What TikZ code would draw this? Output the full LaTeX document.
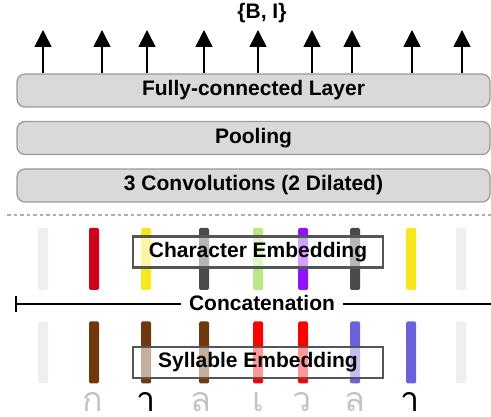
\documentclass[tikz,border=0pt]{standalone}
\usepackage{fontspec}
\setmainfont{Liberation Sans}
\newfontfamily\thaifont[Script=Thai]{Loma}
\usetikzlibrary{arrows.meta}
\definecolor{layerfill}{HTML}{D9D9D9}
\definecolor{layeredge}{HTML}{9B9B9B}
\definecolor{embedge}{HTML}{555555}
\definecolor{cnone}{HTML}{EFEFEF}
\definecolor{cred}{HTML}{D0021B}
\definecolor{cyellow}{HTML}{F8E71C}
\definecolor{cdark}{HTML}{4A4A4A}
\definecolor{cgreen}{HTML}{B8E986}
\definecolor{cpurple}{HTML}{9013FE}
\definecolor{sbrown}{HTML}{70380C}
\definecolor{sred}{HTML}{FF0000}
\definecolor{sblue}{HTML}{6B62DA}
\definecolor{thaigrey}{HTML}{C4C4C4}
\tikzset{
  labelfont/.style={font=\fontsize{21}{24}\selectfont\bfseries},
  layerbox/.style={draw=layeredge, fill=layerfill, line width=1.3pt, rounded corners=8pt,
    minimum width=473pt, minimum height=33pt, labelfont},
  embbar/.style={fill=#1, rounded corners=1.5pt, minimum width=10pt, minimum height=62pt, inner sep=0pt},
  embbox/.style={draw=embedge, line width=2.5pt, fill=white, fill opacity=0.6, text opacity=1,
    minimum width=250pt, minimum height=31pt, inner sep=0pt, labelfont},
  outarrow/.style={-{Triangle[length=17pt,width=17pt]}, line width=1.6pt},
  thaichar/.style={font=\thaifont\fontsize{34}{36}\selectfont, anchor=base, inner sep=0pt, text=#1},
}
\begin{document}
\begin{tikzpicture}[x=1pt, y=-1pt]
  \useasboundingbox (0,0) rectangle (491,417);

  % output labels
  \node[labelfont] (tags) at (262,13) {\{B, I\}};

  % layers
  \node[layerbox] (fc) at (253.5,90.5) {Fully-connected Layer};
  \node[layerbox] (pool) at (253.5,138) {Pooling};
  \node[layerbox] (conv) at (253.5,185.5) {3 Convolutions (2 Dilated)};

  \foreach \i/\x in {1/43,2/102,3/147,4/204,5/258,6/312,7/352,8/412,9/462}
  {
    \coordinate (out\i) at (\x,30);
    \draw[outarrow] (fc.north -| out\i) -- (out\i);
  }

  \draw[layeredge!80, line width=1.2pt, dash pattern=on 3.5pt off 3pt] (7,215) -- (491,215);

  % character embedding
  \foreach \i/\x/\c in {1/43/cnone,2/94/cred,3/146/cyellow,4/204/cdark,5/258/cgreen,
                        6/303/cpurple,7/355/cdark,8/411/cyellow,9/461/cnone}
    \node[embbar=\c] (char\i) at (\x,259) {};
  \node[embbox] (charemb) at (258,252) {Character Embedding};

  % concatenation
  \coordinate (catL) at (16,304);
  \coordinate (catR) at (491,304);
  \draw[line width=1.8pt] (catL) -- (catR);
  \draw[line width=1.8pt] ([yshift=8pt]catL) -- ([yshift=-8pt]catL);
  \node[labelfont, fill=white, inner xsep=8pt, inner ysep=1pt] (cat) at (262,303) {Concatenation};

  % syllable embedding
  \foreach \i/\x/\c in {1/43/cnone,2/94/sbrown,3/146/sbrown,4/204/sbrown,5/258/sred,
                        6/303/sred,7/355/sblue,8/411/sblue,9/461/cnone}
    \node[embbar=\c] (syl\i) at (\x,352.5) {};
  \node[embbox] (sylemb) at (258,362.5) {Syllable Embedding};

  % input characters
  \foreach \i/\x/\t/\c in {1/93/ก/thaigrey,2/146/า/black,3/201/ล/thaigrey,4/258/เ/thaigrey,
                           5/302/ว/thaigrey,6/355/ล/thaigrey,7/410/า/black}
    \node[thaichar=\c] (in\i) at (\x,412) {\t};
\end{tikzpicture}
\end{document}
